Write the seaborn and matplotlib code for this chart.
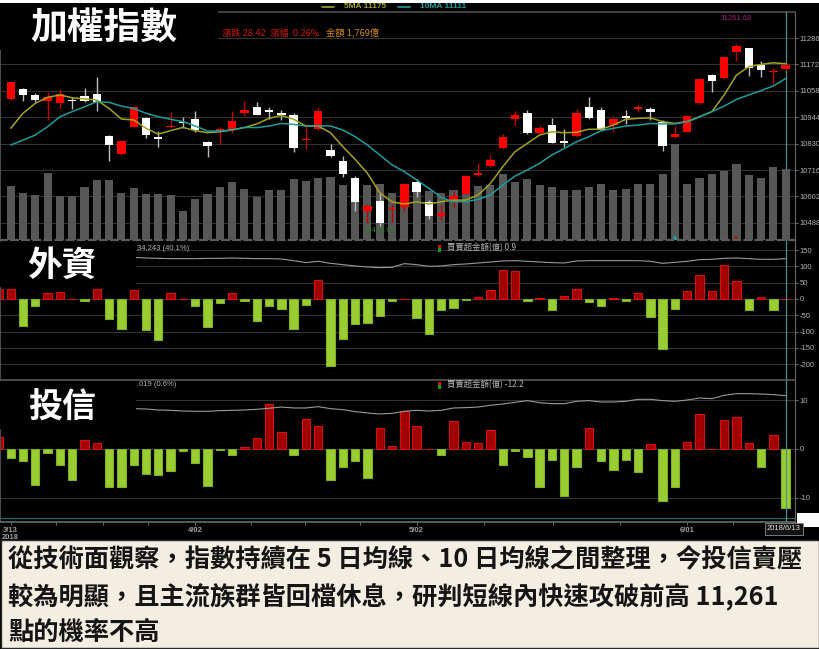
import numpy as np
import pandas as pd
import matplotlib
matplotlib.use("Agg")
import matplotlib.pyplot as plt
import seaborn as sns
from matplotlib.patches import Rectangle
from matplotlib.lines import Line2D

sns.set_theme(style="dark")
plt.rcParams["font.family"] = ["Liberation Sans", "Noto Sans CJK TC", "DejaVu Sans"]
plt.rcParams["axes.unicode_minus"] = False
CJK = ["Noto Sans CJK TC", "DejaVu Sans"]

####data####
days = ["3/13", "3/14", "3/15", "3/16", "3/19", "3/20", "3/21", "3/22", "3/23", "3/26",
        "3/27", "3/28", "3/29", "3/30", "3/31",
        "4/02", "4/03", "4/09", "4/10", "4/11", "4/12", "4/13", "4/16", "4/17", "4/18",
        "4/19", "4/20", "4/23", "4/24", "4/25", "4/26", "4/27", "4/30",
        "5/02", "5/03", "5/04", "5/07", "5/08", "5/09", "5/10", "5/11", "5/14", "5/15",
        "5/16", "5/17", "5/18", "5/21", "5/22", "5/23", "5/24", "5/25", "5/28", "5/29",
        "5/30", "5/31",
        "6/01", "6/04", "6/05", "6/06", "6/07", "6/08", "6/11", "6/12", "6/13"]
year = "2018"

opens = [11023, 11064, 11040, 11012, 11007, 11020, 11037, 11046, 10864, 10784,
         10903, 10939, 10858, 10900, 10925, 10938, 10838, 10883, 10889, 10964,
         10987, 10975, 10961, 10952, 10844, 10892, 10802, 10756, 10680, 10540,
         10584, 10548, 10555, 10663, 10579, 10517, 10584, 10612, 10694, 10733,
         10809, 10938, 10964, 10874, 10910, 10843, 10863, 10987, 10974, 10910,
         10948, 10978, 10979, 10922, 10857, 10881, 11004, 11128, 11112, 11227,
         11241, 11169, 11139, 11152]
highs = [11097, 11069, 11047, 11054, 11064, 11033, 11069, 11116, 10866, 10840,
         10989, 10943, 10886, 10968, 10946, 10971, 10840, 10903, 10972, 11015,
         11008, 10987, 10975, 10961, 10915, 10982, 10830, 10775, 10690, 10569,
         10615, 10569, 10657, 10677, 10586, 10566, 10627, 10694, 10748, 10781,
         10871, 10969, 10975, 10912, 10939, 10893, 10978, 11033, 10989, 10939,
         10975, 10998, 10987, 10932, 10906, 10952, 11110, 11130, 11205, 11261.68,
         11243, 11187, 11158, 11174]
lows = [11018, 11014, 11011, 10932, 10982, 10978, 11010, 10972, 10756, 10781,
        10900, 10853, 10817, 10900, 10896, 10881, 10774, 10828, 10874, 10949,
        10953, 10936, 10932, 10795, 10807, 10889, 10771, 10684, 10540, 10489,
        10473.66, 10491, 10540, 10601, 10506, 10500, 10555, 10608, 10691, 10730,
        10807, 10906, 10872, 10871, 10831, 10817, 10860, 10938, 10886, 10881,
        10915, 10965, 10932, 10799, 10855, 10880, 11001, 11053, 11109, 11187,
        11122, 11116, 11086, 11148]
closes = [11095, 11038, 11018, 11030, 11043, 11012, 11012, 11008, 10824, 10840,
          10987, 10867, 10848, 10906, 10919, 10889, 10821, 10894, 10928, 10975,
          10955, 10966, 10953, 10811, 10850, 10971, 10778, 10699, 10579, 10562,
          10489, 10553, 10657, 10620, 10517, 10529, 10604, 10691, 10703, 10759,
          10858, 10952, 10874, 10896, 10834, 10834, 10964, 10939, 10889, 10936,
          10942, 10988, 10965, 10821, 10873, 10949, 11107, 11099, 11202, 11253,
          11158, 11149, 11145, 11169]
ma5 = [10896, 10961, 11004, 11030, 11040, 11028, 11023, 11018, 10982, 10936,
       10932, 10896, 10871, 10886, 10900, 10886, 10877, 10881, 10889, 10899,
       10915, 10939, 10952, 10935, 10906, 10906, 10877, 10817, 10762, 10702,
       10618, 10578, 10569, 10579, 10569, 10579, 10586, 10586, 10608, 10658,
       10730, 10795, 10831, 10867, 10881, 10877, 10879, 10892, 10892, 10910,
       10935, 10939, 10941, 10925, 10917, 10925, 10946, 10968, 11040, 11126,
       11162, 11172, 11179, 11175]
ma10 = [10824, 10845, 10867, 10903, 10946, 10968, 10989, 11011, 11008, 10992,
        10982, 10961, 10946, 10935, 10925, 10906, 10884, 10884, 10889, 10900,
        10899, 10906, 10917, 10913, 10906, 10907, 10906, 10889, 10860, 10824,
        10781, 10738, 10709, 10673, 10637, 10598, 10579, 10579, 10589, 10608,
        10651, 10690, 10716, 10745, 10781, 10809, 10838, 10860, 10886, 10896,
        10906, 10910, 10917, 10915, 10915, 10925, 10946, 10968, 10992, 11021,
        11040, 11059, 11079, 11111]
volume = [1345, 1188, 1121, 1686, 1105, 1105, 1329, 1495, 1495, 1188,
          1312, 1163, 1163, 1138, 747, 1022, 1163, 1329, 1445, 1287,
          1080, 1246, 1262, 1536, 1478, 1553, 1578, 1370, 1536, 1370,
          1412, 1188, 1412, 1246, 1229, 1188, 1246, 1163, 1354, 1370,
          1661, 1453, 1536, 1387, 1329, 1262, 1262, 1329, 1395, 1262,
          1279, 1412, 1395, 1644, 2408, 1412, 1561, 1644, 1727, 1910,
          1619, 1553, 1827, 1769]   # 億
chg_pts = 28.42
chg_pct = 0.26

# sub panels start one session earlier (3/12, cut at the left edge)
sub_days = ["3/12"] + days
fi_net = [30.6, 30.6, -83.7, -20.4, 18.4, 21.4, 1.0, -5.0, 31.6, -61.2, -90.8,
          26.5, -93.9, -126.6, 19.4, 1.0, -22.5, -86.8, -13.3, 19.4, -5.0,
          -66.3, -22.5, -29.6, -91.9, -19.4, 57.2, -206.0, -123.5, -77.6, -74.5,
          -52.0, -7.0, 0.0, -59.2, -108.2, -32.7, -27.6, -3.0, 6.1, 27.6,
          89.8, 84.7, -7.0, 3.0, -32.7, 8.2, 29.6, -9.2, -22.5, 3.0,
          -7.0, 17.3, -56.1, -152.0, -29.6, 24.5, 74.5, 24.5, 103.0, 55.1,
          -34.7, 5.1, -34.7, 0.9]
it_net = [2.4, -1.85, -2.4, -7.3, -0.75, -3.35, -6.4, 1.85, 1.23, -7.8, -7.8,
          -3.2, -5.1, -5.3, -4.6, -0.5, -2.8, -7.7, -0.2, -1.16, 0.48,
          2.26, 9.3, 3.5, -1.3, 6.16, 4.65, -6.3, -3.7, -2.4, -5.96,
          4.24, 0.55, 7.7, 4.65, 0.0, -1.3, 5.8, 1.44, 1.23, 3.97,
          -3.35, -0.41, -1.71, -7.8, -2.33, -9.72, -3.76, 4.24, -2.53, -4.24,
          -2.19, -4.79, 1.03, -10.75, -7.87, 1.44, 7.26, 0.0, 5.96, 6.64,
          1.23, -3.7, 2.8, -12.2]
# holding traces (drawn in the bar scale), visible from 3/27 on
hold_from = "3/27"
fi_hold = [127.6, 125.6, 124.5, 123.5, 123.5, 123.5, 124.5, 124.5, 125.6, 124.5,
           123.5, 123.5, 122.5, 117.4, 111.3, 115.4, 109.2, 105.2, 101.1, 98.0,
           96.0, 97.0, 108.2, 105.2, 100.0, 101.1, 105.2, 107.2, 110.3, 113.3,
           116.4, 117.4, 115.4, 113.3, 111.3, 110.3, 116.4, 117.4, 117.4, 117.4,
           117.4, 117.4, 115.4, 109.2, 112.3, 115.4, 120.5, 121.5, 124.5, 125.6,
           123.5, 121.5, 121.5, 123.5]
it_hold = [8.28, 8.21, 8.01, 7.94, 7.80, 7.74, 7.74, 7.87, 7.94, 8.01,
           8.15, 8.35, 8.62, 8.42, 8.42, 8.69, 8.28, 8.08, 7.67, 7.39,
           7.19, 7.32, 7.74, 7.94, 7.80, 7.94, 8.42, 8.49, 8.62, 8.97,
           9.24, 9.58, 9.93, 9.51, 9.31, 9.31, 9.79, 9.93, 9.65, 9.65,
           9.79, 10.20, 10.20, 9.93, 9.79, 10.06, 10.47, 10.34, 11.02, 11.36,
           11.36, 11.29, 11.16, 10.95]
fi_hold_label = "34,243 (40.1%)"
it_hold_label = ".019 (0.6%)"

price_ticks = [10488, 10602, 10716, 10830, 10944, 11058, 11172, 11286]
fi_ticks = [150, 100, 50, 0, -50, -100, -150, -200]
it_ticks = [10, 0, -10]
date_ticks = ["3/13", "4/02", "5/02", "6/01"]
flag_days = {"5/31": "#1fa3a3", "6/07": "#a01515"}

body_text = ["從技術面觀察，指數持續在 5 日均線、10 日均線之間整理，今投信賣壓",
             "較為明顯，且主流族群皆回檔休息，研判短線內快速攻破前高 11,261",
             "點的機率不高"]

####frames####
k = pd.DataFrame({"day": days, "open": opens, "high": highs, "low": lows,
                  "close": closes, "ma5": ma5, "ma10": ma10, "vol": volume})
k["x"] = np.arange(len(k))
k["up"] = k["close"] >= k["open"]
sub = pd.DataFrame({"day": sub_days, "fi": fi_net, "it": it_net})
sub["x"] = np.arange(len(sub)) - 1
h0 = days.index(hold_from)
hold = pd.DataFrame({"x": np.arange(h0, len(days)), "fi": fi_hold, "it": it_hold})

####figure settings####
W, H = 820, 649
def fx(px): return px / W
def fy(py): return 1 - py / H

RED, WHITE = "#ff0000", "#ffffff"
BAR_RED, BAR_RED_E = "#a00000", "#d81010"
BAR_GRN, BAR_GRN_E = "#9acd32", "#80b024"
GRID = "#333333"
LBL = "#b4b4b4"
C5, C10 = "#a5a21e", "#1f9c9c"
CURSOR = "#4f8f8f"

fig = plt.figure(figsize=(W / 100, H / 100), dpi=100)
fig.patch.set_facecolor("black")

ax_top = fig.add_axes([0, fy(240.5), fx(795), (240.5 - 12) / H])
ax_vol = ax_top.twinx()
ax_c = ax_top.twinx()
ax_fi = fig.add_axes([0, fy(378.5), fx(795), (378.5 - 240.5) / H], sharex=ax_top)
ax_it = fig.add_axes([0, fy(522), fx(795), (522 - 379.5) / H], sharex=ax_top)


def style_panel(ax, ticks, lim):
    ax.set_facecolor("black")
    ax.set_ylim(*lim)
    ax.yaxis.tick_right()
    ax.set_yticks(ticks)
    ax.set_yticklabels([f"{t:g}" for t in ticks])
    ax.tick_params(axis="y", colors="#888888", labelcolor=LBL, labelsize=5.5,
                   length=2.5, width=0.6, pad=0.8, direction="out", left=False)
    ax.tick_params(axis="x", bottom=False, labelbottom=False)
    ax.grid(True, axis="y", color=GRID, lw=0.8)
    ax.grid(False, axis="x")
    ax.set_axisbelow(True)
    for s in ["top", "bottom"]:
        ax.spines[s].set_visible(False)
    ax.spines["right"].set_color("#6a6a6a")
    ax.spines["right"].set_linewidth(0.8)
    ax.spines["left"].set_color("#4a4a4a")
    ax.spines["left"].set_linewidth(0.8)


plim = (10411.6, 11398.3)
style_panel(ax_top, price_ticks, plim)
ax_top.spines["top"].set_visible(True)
ax_top.spines["top"].set_color("#4a4a4a")
for a in (ax_vol, ax_c):
    a.set_yticks([])
    for s in a.spines.values():
        s.set_visible(False)
ax_c.set_ylim(*plim)
ax_vol.set_ylim(0, 5690)

####volume####
sns.barplot(data=k, x="x", y="vol", native_scale=True, orient="x", width=0.66,
            color="#575757", saturation=1, linewidth=0, errorbar=None, ax=ax_vol)

####candles####
body_lo = np.minimum(k["open"], k["close"])
body_h = np.maximum((k["close"] - k["open"]).abs(), 4)
for up, wick, face in [(True, "#c40000", RED), (False, "#bdbdbd", WHITE)]:
    m = k["up"] == up
    ax_c.vlines(k["x"][m], k["low"][m], k["high"][m], color=wick, lw=1, zorder=1)
    ax_c.bar(k["x"][m], body_h[m], bottom=body_lo[m], width=0.68, color=face, lw=0, zorder=2)

sns.lineplot(data=k, x="x", y="ma5", color=C5, lw=1.1, zorder=3, ax=ax_c)
sns.lineplot(data=k, x="x", y="ma10", color=C10, lw=1.1, zorder=3, ax=ax_c)

ih = int(np.argmax(k["high"]))
il = int(np.argmin(k["low"]))
ax_c.annotate(f"{k['high'][ih]:.2f}", (ih, k["high"][ih]), xytext=(0, 18), textcoords="offset points",
              ha="center", va="center", color="#a0207f", fontsize=5.5)
ax_c.annotate(f"{k['low'][il]:.2f}", (il, k["low"][il]), xytext=(0, -0.5), textcoords="offset points",
              ha="center", va="top", color="#2f7d2f", fontsize=5.5)
for d, col in flag_days.items():
    ax_c.plot(days.index(d), 0.012, marker="^", ms=4, color=col, mew=0,
              transform=ax_c.get_xaxis_transform(), zorder=4)
ax_vol.axvline(len(days) - 1, color=CURSOR, lw=0.9, zorder=0)

####foreign / trust net buy####
style_panel(ax_fi, fi_ticks, (-243.4, 179.1))
ax_fi.spines["top"].set_visible(True)
ax_fi.spines["top"].set_color("#5c5c5c")
ax_fi.spines["top"].set_linewidth(1.6)
ax_fi.spines["top"].set_linestyle((0, (3, 2)))
style_panel(ax_it, it_ticks, (-15.0, 14.27))
ax_it.spines["top"].set_visible(True)
ax_it.spines["top"].set_color("#555555")
ax_it.spines["bottom"].set_visible(True)
ax_it.spines["bottom"].set_color("#666666")
ax_it.axhline(-14.23, color="#1d6b6b", lw=0.9, zorder=1)

for ax, col, hcol in [(ax_fi, "fi", "fi"), (ax_it, "it", "it")]:
    pos = sub[sub[col] >= 0]
    neg = sub[sub[col] < 0]
    sns.barplot(data=pos, x="x", y=col, native_scale=True, orient="x", width=0.68,
                color=BAR_RED, saturation=1, edgecolor=BAR_RED_E, linewidth=0.8,
                errorbar=None, ax=ax, zorder=2)
    sns.barplot(data=neg, x="x", y=col, native_scale=True, orient="x", width=0.68,
                color=BAR_GRN, saturation=1, edgecolor=BAR_GRN_E, linewidth=0.8,
                errorbar=None, ax=ax, zorder=2)
    sns.lineplot(data=hold, x="x", y=hcol, color="#9a9a9a", lw=0.8, zorder=3, ax=ax)
    ax.axvline(len(days) - 1, color=CURSOR, lw=0.9, zorder=4)

for ax in (ax_top, ax_vol, ax_c, ax_fi, ax_it):
    ax.set_xlabel("")
    ax.set_ylabel("")

####x axis####
ax_top.set_xlim(-0.87, len(days) - 0.24)
tick_pos = [days.index(d) for d in date_ticks]
ax_it.set_xticks(tick_pos)
ax_it.set_xticklabels([d + ("\n" + year if i == 0 else "") for i, d in enumerate(date_ticks)],
                      linespacing=0.95)
ax_it.set_xticks([3.7, 7.5, 11.2, 19.5, 23.9, 28.4, 38.5, 44.1, 49.5, 58.7], minor=True)
ax_it.tick_params(axis="x", which="both", bottom=True, labelbottom=True, colors="#888888",
                  labelcolor="#a0a0a0", labelsize=5.5, length=2.5, width=0.6, pad=1)
ax_it.tick_params(axis="y", which="minor", right=False, left=False)
for lab in ax_it.get_xticklabels():
    lab.set_fontweight("bold")

####decorations####
def px_box(x0, y0, x1, y1, **kw):
    fig.add_artist(Rectangle((fx(x0), fy(y1)), (x1 - x0) / W, (y1 - y0) / H,
                             transform=fig.transFigure, **kw))

px_box(0, 0, 820, 2.5, fc="white", ec="none")
px_box(0, 2.5, 218, 50, fc="black", ec="none")
px_box(0, 241.5, 136, 287, fc="black", ec="none")
px_box(0, 380.5, 136, 429, fc="black", ec="none")
fig.text(fx(104), fy(28), "加權指數", family=CJK, fontsize=26.5, fontweight="heavy",
         color="white", ha="center", va="center")
fig.text(fx(62), fy(265), "外資", family=CJK, fontsize=25, fontweight="heavy",
         color="white", ha="center", va="center")
fig.text(fx(62), fy(407), "投信", family=CJK, fontsize=24.5, fontweight="heavy",
         color="white", ha="center", va="center")

# legend row
for x0, col, txt in [(322, C5, f"5MA {ma5[-1]:.0f}"), (398, C10, f"10MA {ma10[-1]:.0f}")]:
    fig.add_artist(Line2D([fx(x0), fx(x0 + 12)], [fy(6.5), fy(6.5)], color=col, lw=1.2,
                          transform=fig.transFigure))
    fig.text(fx(x0 + 22), fy(6.5), txt, color=col, fontsize=6, va="center", fontweight="bold")
fig.text(fx(222), fy(33.5), f"漲跌 {chg_pts:.2f}  漲幅  {chg_pct:.2f}%", family=CJK,
         color="#d01414", fontsize=6.7, va="center")
fig.text(fx(326), fy(33.5), f"金額 {volume[-1]:,}億", family=CJK,
         color="#d08a10", fontsize=6.7, va="center")

# sub panel readouts
for y0, hold_txt, val in [(248, fi_hold_label, fi_net[-1]), (385, it_hold_label, it_net[-1])]:
    fig.text(fx(137), fy(y0), hold_txt, color=LBL, fontsize=5.5, va="center")
    px_box(438, y0 - 3.5, 441.5, y0, fc="#e01010", ec="none")
    px_box(438, y0, 441.5, y0 + 3.5, fc="#10a010", ec="none")
    fig.text(fx(447), fy(y0), f"買賣超金額(億) {val:.1f}", family=CJK, color=LBL,
             fontsize=6, va="center")

# cursor date box
px_box(797, 513, 820, 527, fc="white", ec="none")
fig.text(fx(784), fy(529), f"{year}/{days[-1].lstrip('0')}", color="#dddddd", fontsize=5.5,
         ha="center", va="center",
         bbox=dict(boxstyle="square,pad=0.3", fc="#141414", ec="#8a8a8a", lw=0.6))

# commentary box
px_box(0.5, 540, 819, 648, fc="#f4eee2", ec="#2a2a2a", lw=1.0)
for i, line in enumerate(body_text):
    fig.text(fx(8), fy(560 + 36 * i), line, family=CJK, fontsize=18.2, fontweight="bold",
             color="#151515", ha="left", va="center")

plt.savefig("out.png", dpi=100, facecolor=fig.get_facecolor())
